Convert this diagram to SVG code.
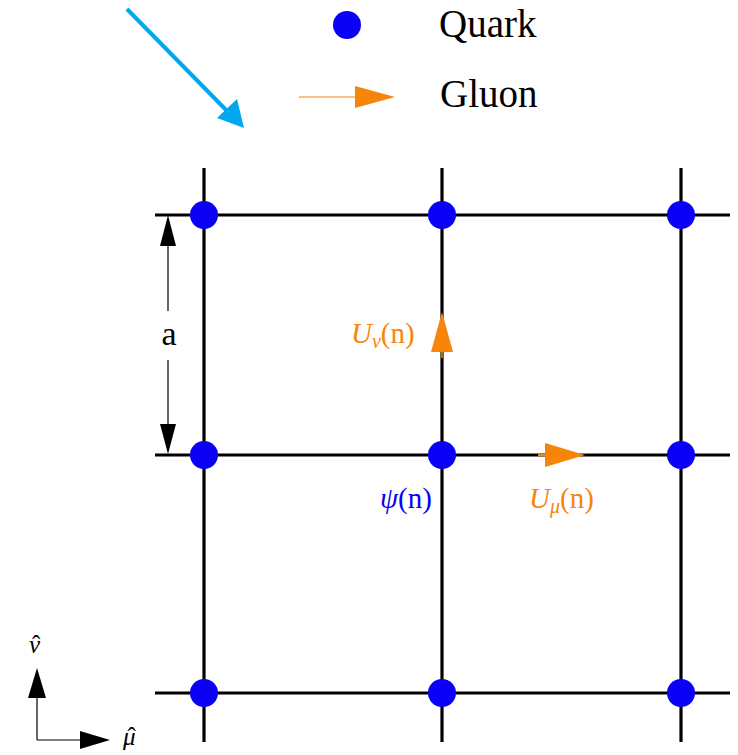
<svg xmlns="http://www.w3.org/2000/svg" width="738" height="755" viewBox="0 0 738 755">
<style>
.grid{stroke:#000;stroke-width:3.2;fill:none}
.q{fill:#0A00F5}
.gl{fill:#F7850A}
.t{font-family:"Liberation Serif","Times New Roman",serif}
.thin{stroke:#000;stroke-width:1.2;fill:none}
</style>
<rect width="738" height="755" fill="#fff"/>
<g id="connectors">
<g id="lattice-lines">
<line class="grid" x1="155" y1="215" x2="730" y2="215"/>
<line class="grid" x1="155" y1="455" x2="730" y2="455"/>
<line class="grid" x1="155" y1="693" x2="730" y2="693"/>
<line class="grid" x1="204" y1="168" x2="204" y2="742"/>
<line class="grid" x1="442" y1="168" x2="442" y2="742"/>
<line class="grid" x1="681" y1="168" x2="681" y2="742"/>
</g>
<g id="pointer-arrow">
<line x1="127" y1="9" x2="228" y2="112" stroke="#00A8F0" stroke-width="4"/>
<polygon points="244,128 217,118 237,99" fill="#00A8F0"/>
</g>
<g id="scale-a">
<line class="thin" x1="168" y1="240" x2="168" y2="311"/>
<line class="thin" x1="168" y1="360" x2="168" y2="430"/>
<polygon points="168,215 160,246 176,246" fill="#000"/>
<polygon points="168,454 160,424 176,424" fill="#000"/>
</g>
<g id="gluon-nu">
<line x1="442" y1="352" x2="442" y2="358" stroke="#F7850A" stroke-width="1.5"/>
<polygon class="gl" points="442,312 431,352 453,352"/>
</g>
<g id="gluon-mu">
<line x1="538" y1="455" x2="546" y2="455" stroke="#F7850A" stroke-width="2"/>
<polygon class="gl" points="585,455 545,443 545,467"/>
</g>
<g id="axes">
<line x1="37" y1="740" x2="37" y2="695" stroke="#000" stroke-width="1.2"/>
<line x1="37" y1="740" x2="82" y2="740" stroke="#000" stroke-width="1.2"/>
<polygon points="37,668 28,698 46,698" fill="#000"/>
<polygon points="110,740 80,731 80,749" fill="#000"/>
</g>
</g>
<g id="legend">
<g id="legend-quark">
<circle class="q" cx="347" cy="25" r="14"/>
<text class="t" x="439" y="37" font-size="39">Quark</text>
</g>
<g id="legend-gluon">
<line x1="299" y1="97" x2="360" y2="97" stroke="#F7850A" stroke-width="1.2"/>
<polygon class="gl" points="395,97 355,86 355,108"/>
<text class="t" x="440" y="107" font-size="39">Gluon</text>
</g>
</g>
<g id="quarks">
<circle id="q00" class="q" cx="204" cy="215" r="14"/>
<circle id="q10" class="q" cx="442" cy="215" r="14"/>
<circle id="q20" class="q" cx="681" cy="215" r="14"/>
<circle id="q01" class="q" cx="204" cy="455" r="14"/>
<circle id="q11" class="q" cx="442" cy="455" r="14"/>
<circle id="q21" class="q" cx="681" cy="455" r="14"/>
<circle id="q02" class="q" cx="204" cy="693" r="14"/>
<circle id="q12" class="q" cx="442" cy="693" r="14"/>
<circle id="q22" class="q" cx="681" cy="693" r="14"/>
</g>
<g id="labels">
<text id="label-a" class="t" x="169" y="345" font-size="34" text-anchor="middle">a</text>
<text id="label-unu" class="t" x="351" y="343" font-size="29" fill="#F7850A"><tspan font-style="italic">U</tspan><tspan font-style="italic" font-size="20" dy="5">ν</tspan><tspan dy="-5">(n)</tspan></text>
<text id="label-umu" class="t" x="529" y="508" font-size="29" fill="#F7850A"><tspan font-style="italic">U</tspan><tspan font-style="italic" font-size="20" dy="5">μ</tspan><tspan dy="-5">(n)</tspan></text>
<text id="label-psi" class="t" x="380" y="508" font-size="29" fill="#0A00F5"><tspan font-style="italic">ψ</tspan>(n)</text>
<text id="label-nuhat" class="t" x="29" y="653" font-size="25"><tspan font-style="italic">ν</tspan><tspan dx="-8">ˆ</tspan></text>
<text id="label-muhat" class="t" x="123" y="745" font-size="25"><tspan font-style="italic">μ</tspan><tspan dx="-8">ˆ</tspan></text>
</g>
</svg>
